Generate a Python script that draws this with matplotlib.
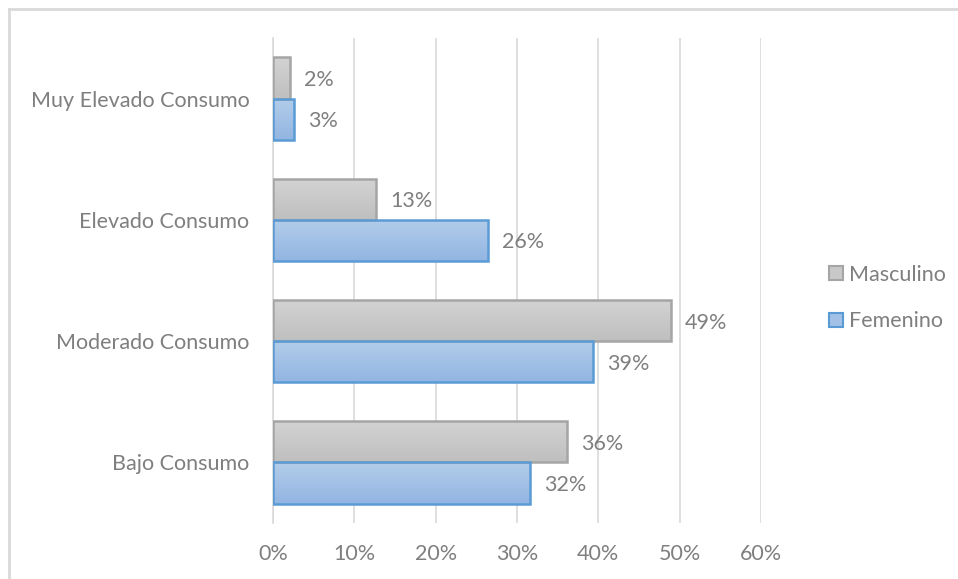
import numpy as np
import matplotlib
matplotlib.use("Agg")
import matplotlib.pyplot as plt
from matplotlib.patches import Patch
from matplotlib.colors import LinearSegmentedColormap
from matplotlib.lines import Line2D

plt.rcParams['font.family'] = ['Lato', 'DejaVu Sans']

categories = ["Bajo Consumo", "Moderado Consumo", "Elevado Consumo", "Muy Elevado Consumo"]
masculino = [36.2, 48.9, 12.7, 2.1]
femenino = [31.6, 39.4, 26.4, 2.6]
series_names = ["Masculino", "Femenino"]
x_ticks = [0, 10, 20, 30, 40, 50, 60]

FS = 15.5
TEXT = "#7f7f7f"
GRID = "#d9d9d9"
styles = {
    "Masculino": dict(top="#d3d3d3", bottom="#bfbfbf", edge="#a5a5a5"),
    "Femenino": dict(top="#b3cdea", bottom="#92b5e2", edge="#5b9bd5"),
}

fig = plt.figure(figsize=(9.58, 5.79), dpi=100)
ax = fig.add_axes([273 / 958, 56 / 579, (761 - 273) / 958, (541 - 56) / 579])

h = 0.34
y = np.arange(len(categories))


def gradient_bar(ax, y0, width, height, st):
    rect = ax.barh(y0, width, height=height, facecolor="none",
                   edgecolor=st["edge"], linewidth=1.8, zorder=3)[0]
    cmap = LinearSegmentedColormap.from_list("g", [st["top"], st["bottom"]])
    grad = np.linspace(0, 1, 64).reshape(-1, 1)
    # row 0 (lightest) is drawn at the top of the bar
    im = ax.imshow(grad, cmap=cmap, aspect="auto", origin="upper",
                   extent=[0, width, y0 - height / 2, y0 + height / 2],
                   zorder=2, interpolation="bilinear")
    im.set_clip_path(rect)
    return rect


for i in range(len(categories)):
    for name, vals, off in (("Masculino", masculino, h / 2), ("Femenino", femenino, -h / 2)):
        v = vals[i]
        gradient_bar(ax, y[i] + off, v, h, styles[name])
        ax.annotate(f"{v:.0f}%", xy=(v, y[i] + off), xytext=(14, -2),
                    textcoords="offset pixels",
                    ha="left", va="center", fontsize=FS, color=TEXT)

ax.set_xlim(0, 60)
ax.set_ylim(-0.5, 3.5)
ax.set_xticks(x_ticks)
ax.set_xticklabels([f"{t}%" for t in x_ticks], fontsize=FS, color=TEXT)
ax.set_yticks(y)
ax.set_yticklabels(categories, fontsize=FS, color=TEXT)
ax.tick_params(axis="x", length=0, pad=15)
ax.tick_params(axis="y", length=0, pad=17)
ax.xaxis.grid(True, color=GRID, linewidth=1.2, zorder=0)
ax.set_axisbelow(True)
for s in ("top", "right", "bottom"):
    ax.spines[s].set_visible(False)
ax.spines["left"].set_color(GRID)
ax.spines["left"].set_linewidth(1.2)

handles = [Patch(facecolor="#c8c8c8", edgecolor=styles["Masculino"]["edge"], linewidth=1.5),
           Patch(facecolor="#a3c1e6", edgecolor=styles["Femenino"]["edge"], linewidth=1.5)]
leg = fig.legend(handles, series_names, loc="center left",
                 bbox_to_anchor=(820 / 958, 1 - 298 / 579), frameon=False,
                 fontsize=FS, labelcolor=TEXT, handlelength=0.65, handleheight=0.65,
                 handletextpad=0.3, labelspacing=1.25, borderaxespad=0)

# light chart-area border along the top and left edges
fig.add_artist(Line2D([9 / 958, 1], [1 - 9 / 579, 1 - 9 / 579], transform=fig.transFigure,
                      color="#d9d9d9", linewidth=2))
fig.add_artist(Line2D([9 / 958, 9 / 958], [0, 1 - 9 / 579], transform=fig.transFigure,
                      color="#d9d9d9", linewidth=2))

fig.savefig("out.png", dpi=100)
